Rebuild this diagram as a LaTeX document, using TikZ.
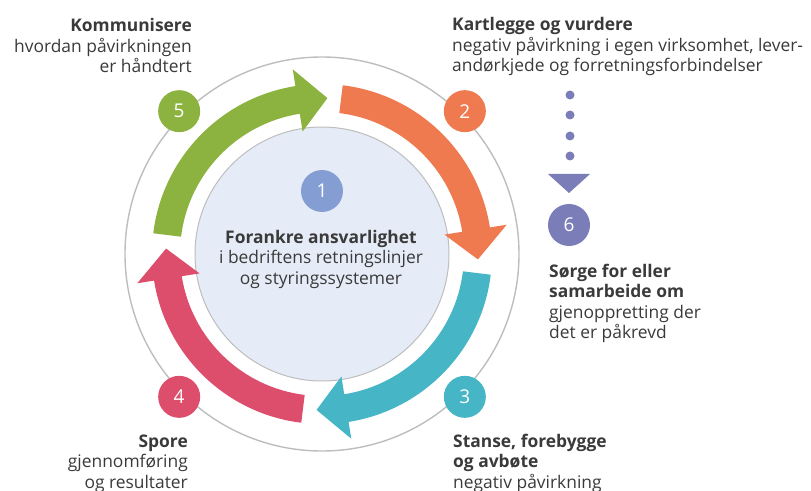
\documentclass[tikz,border=0pt]{standalone}
\usepackage{fontspec}
\setmainfont{Open Sans}

\definecolor{cgreen}{HTML}{8CB23F}
\definecolor{corange}{HTML}{F07A50}
\definecolor{ccyan}{HTML}{46B5C6}
\definecolor{cpink}{HTML}{DD4D6C}
\definecolor{cblue}{HTML}{849ED3}
\definecolor{cpurple}{HTML}{7B7DB8}
\definecolor{cinner}{HTML}{E6ECF7}
\definecolor{cline}{HTML}{BDBDBD}
\definecolor{ctext}{HTML}{3A3A3A}

\tikzset{
    numdot/.style={circle, minimum size=42pt, inner sep=0pt, text=white,
        font=\fontsize{19}{19}\selectfont},
    steptext/.style={inner sep=0pt, text=ctext,
        font=\fontsize{17.4}{20.5}\selectfont},
    ringline/.style={draw=cline, line width=1.4pt}
}

\begin{document}
\begin{tikzpicture}[x=1pt, y=1pt]
    \useasboundingbox (-322,-236) rectangle (489,254);

    % Define the radii
    \def\Rout{197pt}   % outer grey ring
    \def\Rin{127pt}    % inner disc
    \def\Rnum{202pt}   % number circles
    \def\Ro{170pt}     % arrow band, outside
    \def\Ri{142pt}     % arrow band, inside
    \def\Rm{156pt}     % arrow tip
    \def\Hout{187pt}   % arrow head, outside
    \def\Hin{124pt}    % arrow head, inside

    % Define Coordinates
    \coordinate (O) at (0,0);
    \coordinate (d1) at (248,159);
    \coordinate (d2) at (248,139);
    \coordinate (d3) at (248,118);
    \coordinate (d4) at (248,98);
    \coordinate (TL) at (226,80);
    \coordinate (TR) at (268,80);
    \coordinate (TT) at (247,61);

    % 1. Draw the Circles
    \draw[ringline] (O) circle (\Rout);
    \draw[draw=cline, line width=1pt, fill=cinner] (O) circle (\Rin);

    % 2. Draw the Arrows (tail, head base, tip)
    \fill[cgreen] (173:\Ro) arc[start angle=173, end angle=99, radius=\Ro]
        -- (99:\Hout) -- (88:\Rm) -- (99:\Hin) -- (99:\Ri)
        arc[start angle=99, end angle=173, radius=\Ri] -- cycle;
    \fill[corange] (83:\Ro) arc[start angle=83, end angle=9, radius=\Ro]
        -- (9:\Hout) -- (-2:\Rm) -- (9:\Hin) -- (9:\Ri)
        arc[start angle=9, end angle=83, radius=\Ri] -- cycle;
    \fill[ccyan] (-7:\Ro) arc[start angle=-7, end angle=-81, radius=\Ro]
        -- (-81:\Hout) -- (-92:\Rm) -- (-81:\Hin) -- (-81:\Ri)
        arc[start angle=-81, end angle=-7, radius=\Ri] -- cycle;
    \fill[cpink] (-97:\Ro) arc[start angle=-97, end angle=-171, radius=\Ro]
        -- (-171:\Hout) -- (-182:\Rm) -- (-171:\Hin) -- (-171:\Ri)
        arc[start angle=-171, end angle=-97, radius=\Ri] -- cycle;

    % 3. Number circles
    \node[numdot, fill=cblue] (n1) at (0,63) {1};
    \node[numdot, fill=corange] (n2) at (45:\Rnum) {2};
    \node[numdot, fill=ccyan] (n3) at (-45:\Rnum) {3};
    \node[numdot, fill=cpink] (n4) at (-135:\Rnum) {4};
    \node[numdot, fill=cgreen] (n5) at (135:\Rnum) {5};
    \node[numdot, fill=cpurple] (n6) at (247,29) {6};

    % 4. Dots and triangle down to 6
    \fill[cpurple] (d1) circle (4.5pt);
    \fill[cpurple] (d2) circle (4.5pt);
    \fill[cpurple] (d3) circle (4.5pt);
    \fill[cpurple] (d4) circle (4.5pt);
    \fill[cpurple] (TL) -- (TR) -- (TT) -- cycle;

    % 5. Add Labels (anchored at the last line)
    \node[steptext, align=center, anchor=base] (t1) at (-1,-30)
        {\textbf{Forankre ansvarlighet}\\i bedriftens retningslinjer\\og styringssystemer};
    \node[steptext, align=left, anchor=base west] (t2) at (130,182)
        {\textbf{Kartlegge og vurdere}\\negativ påvirkning i egen virksomhet, lever-\\andørkjede og forretningsforbindelser};
    \node[steptext, align=left, anchor=base west] (t3) at (131,-234)
        {\textbf{Stanse, forebygge}\\\textbf{og avbøte}\\negativ påvirkning};
    \node[steptext, align=right, anchor=base east] (t4) at (-134,-234)
        {\textbf{Spore}\\gjennomføring\\og resultater};
    \node[steptext, align=right, anchor=base east] (t5) at (-130,181)
        {\textbf{Kommunisere}\\hvordan påvirkningen\\er håndtert};
    \node[steptext, align=left, anchor=base west] (t6) at (227,-84.5)
        {\textbf{Sørge for eller}\\\textbf{samarbeide om}\\gjenoppretting der\\det er påkrevd};

\end{tikzpicture}
\end{document}
